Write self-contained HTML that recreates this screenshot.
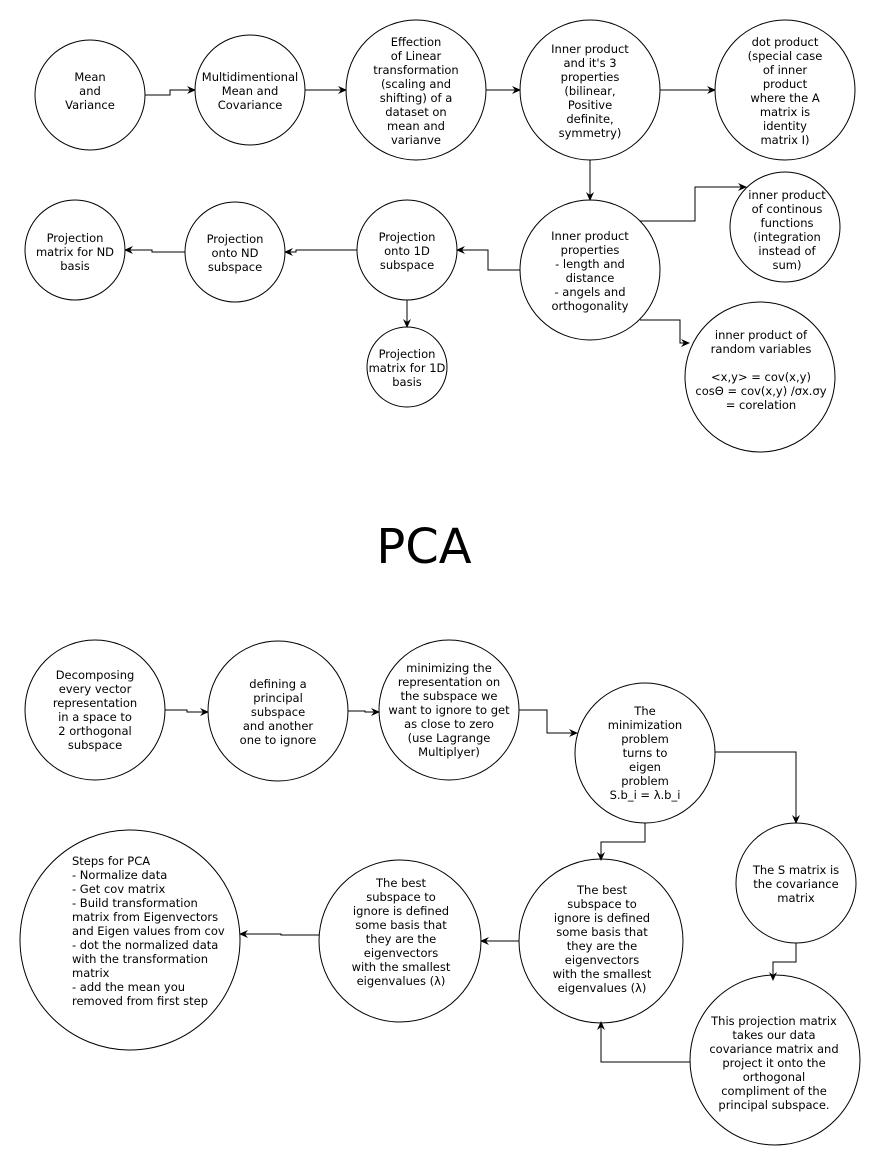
<!DOCTYPE html>
<html><head><meta charset="utf-8"><style>
html,body{margin:0;padding:0;background:#fff;}
svg{display:block;}
text{font-family:"DejaVu Sans","Liberation Sans",sans-serif;font-size:11.5px;fill:#000;}
</style></head><body>
<svg width="876" height="1166" viewBox="0 0 876 1166" xmlns="http://www.w3.org/2000/svg">
<defs><marker id="a" markerWidth="10" markerHeight="10" refX="8" refY="5" orient="auto" markerUnits="userSpaceOnUse"><path d="M0,1 L9,5 L0,9 L3,5 Z" fill="#000"/></marker></defs>
<g fill="#fff" stroke="#000" stroke-width="1">
<circle cx="90" cy="95" r="55"/>
<circle cx="250" cy="90" r="55"/>
<circle cx="416" cy="90" r="70"/>
<circle cx="590" cy="90" r="70"/>
<circle cx="785" cy="90" r="70"/>
<circle cx="590" cy="270" r="70"/>
<circle cx="785" cy="227" r="55"/>
<circle cx="760" cy="377" r="75"/>
<circle cx="407" cy="250" r="50"/>
<circle cx="235" cy="252" r="50"/>
<circle cx="75" cy="250" r="50"/>
<circle cx="407" cy="367" r="40"/>
<circle cx="95" cy="710" r="70"/>
<circle cx="278" cy="711" r="70"/>
<circle cx="449" cy="710" r="70"/>
<circle cx="645" cy="753" r="70"/>
<circle cx="796" cy="883" r="60"/>
<circle cx="775" cy="1060" r="85"/>
<circle cx="601" cy="941" r="82"/>
<circle cx="400" cy="941" r="81"/>
<circle cx="130" cy="940" r="110"/>
</g>
<g fill="none" stroke="#000" stroke-width="1" marker-end="url(#a)">
<path d="M145,95 H170 V90 H195"/>
<path d="M305,90 H346"/>
<path d="M486,90 H520"/>
<path d="M660,90 H715"/>
<path d="M590,160 V200"/>
<path d="M640,221 H695 V187 H746"/>
<path d="M640,320 H680 V343 H689"/>
<path d="M520,270 H488 V250 H457"/>
<path d="M357,250 H296 V252 H285"/>
<path d="M185,252 H152 V250 H125"/>
<path d="M407,300 V327"/>
<path d="M165,710 H187 V712 H208"/>
<path d="M348,711 H365 V712 H379"/>
<path d="M519,710 H547 V733 H577"/>
<path d="M715,752 H796 V823"/>
<path d="M645,823 V842 H601 V860"/>
<path d="M796,943 V962 H773 V980"/>
<path d="M690,1062 H601 V1022"/>
<path d="M519,941 H481"/>
<path d="M319,935 H281 V934 H240"/>
</g>
<g text-anchor="middle">
<text x="90" y="81">Mean</text><text x="90" y="95">and</text><text x="90" y="109">Variance</text>
<text x="250" y="81">Multidimentional</text><text x="250" y="95">Mean and</text><text x="250" y="109">Covariance</text>
<text x="416" y="46">Effection</text><text x="416" y="60">of Linear</text><text x="416" y="74">transformation</text><text x="416" y="88">(scaling and</text><text x="416" y="102">shifting) of a</text><text x="416" y="116">dataset on</text><text x="416" y="130">mean and</text><text x="416" y="144">varianve</text>
<text x="590" y="53">Inner product</text><text x="590" y="67">and it's 3</text><text x="590" y="81">properties</text><text x="590" y="95">(bilinear,</text><text x="590" y="109">Positive</text><text x="590" y="123">definite,</text><text x="590" y="137">symmetry)</text>
<text x="785" y="46">dot product</text><text x="785" y="60">(special case</text><text x="785" y="74">of inner</text><text x="785" y="88">product</text><text x="785" y="102">where the A</text><text x="785" y="116">matrix is</text><text x="785" y="130">identity</text><text x="785" y="144">matrix I)</text>
<text x="590" y="240">Inner product</text><text x="590" y="254">properties</text><text x="590" y="268">- length and</text><text x="590" y="282">distance</text><text x="590" y="296">- angels and</text><text x="590" y="310">orthogonality</text>
<text x="787" y="199">inner product</text><text x="787" y="213">of continous</text><text x="787" y="227">functions</text><text x="787" y="241">(integration</text><text x="787" y="255">instead of</text><text x="787" y="269">sum)</text>
<text x="761" y="339">inner product of</text><text x="761" y="353">random variables</text><text x="761" y="381">&lt;x,y&gt; = cov(x,y)</text><text x="761" y="395">cosΘ = cov(x,y) /σx.σy</text><text x="761" y="409">= corelation</text>
<text x="407" y="241">Projection</text><text x="407" y="255">onto 1D</text><text x="407" y="269">subspace</text>
<text x="235" y="243">Projection</text><text x="235" y="257">onto ND</text><text x="235" y="271">subspace</text>
<text x="75" y="242">Projection</text><text x="75" y="256">matrix for ND</text><text x="75" y="270">basis</text>
<text x="407" y="358">Projection</text><text x="407" y="372">matrix for 1D</text><text x="407" y="386">basis</text>
<text x="424" y="563" style="font-size:48px">PCA</text>
<text x="95" y="679">Decomposing</text><text x="95" y="693">every vector</text><text x="95" y="707">representation</text><text x="95" y="721">in a space to</text><text x="95" y="735">2 orthogonal</text><text x="95" y="749">subspace</text>
<text x="278" y="688">defining a</text><text x="278" y="702">principal</text><text x="278" y="716">subspace</text><text x="278" y="730">and another</text><text x="278" y="744">one to ignore</text>
<text x="449" y="672">minimizing the</text><text x="449" y="686">representation on</text><text x="449" y="700">the subspace we</text><text x="449" y="714">want to ignore to get</text><text x="449" y="728">as close to zero</text><text x="449" y="742">(use Lagrange</text><text x="449" y="756">Multiplyer)</text>
<text x="645" y="715">The</text><text x="645" y="729">minimization</text><text x="645" y="743">problem</text><text x="645" y="757">turns to</text><text x="645" y="771">eigen</text><text x="645" y="785">problem</text><text x="645" y="799">S.b_i = λ.b_i</text>
<text x="796" y="874">The S matrix is</text><text x="796" y="888">the covariance</text><text x="796" y="902">matrix</text>
<text x="774" y="1025">This projection matrix</text><text x="774" y="1039">takes our data</text><text x="774" y="1053">covariance matrix and</text><text x="774" y="1067">project it onto the</text><text x="774" y="1081">orthogonal</text><text x="774" y="1095">compliment of the</text><text x="774" y="1109">principal subspace.</text>
<text x="602" y="894">The best</text><text x="602" y="908">subspace to</text><text x="602" y="922">ignore is defined</text><text x="602" y="936">some basis that</text><text x="602" y="950">they are the</text><text x="602" y="964">eigenvectors</text><text x="602" y="978">with the smallest</text><text x="602" y="992">eigenvalues (λ)</text>
<text x="401" y="887">The best</text><text x="401" y="901">subspace to</text><text x="401" y="915">ignore is defined</text><text x="401" y="929">some basis that</text><text x="401" y="943">they are the</text><text x="401" y="957">eigenvectors</text><text x="401" y="971">with the smallest</text><text x="401" y="985">eigenvalues (λ)</text>
</g>
<g text-anchor="start">
<text x="72" y="865">Steps for PCA</text><text x="72" y="879">- Normalize data</text><text x="72" y="893">- Get cov matrix</text><text x="72" y="907">- Build transformation</text><text x="72" y="921">matrix from Eigenvectors</text><text x="72" y="935">and Eigen values from cov</text><text x="72" y="949">- dot the normalized data</text><text x="72" y="963">with the transformation</text><text x="72" y="977">matrix</text><text x="72" y="991">- add the mean you</text><text x="72" y="1005">removed from first step</text>
</g>
</svg>
</body></html>
